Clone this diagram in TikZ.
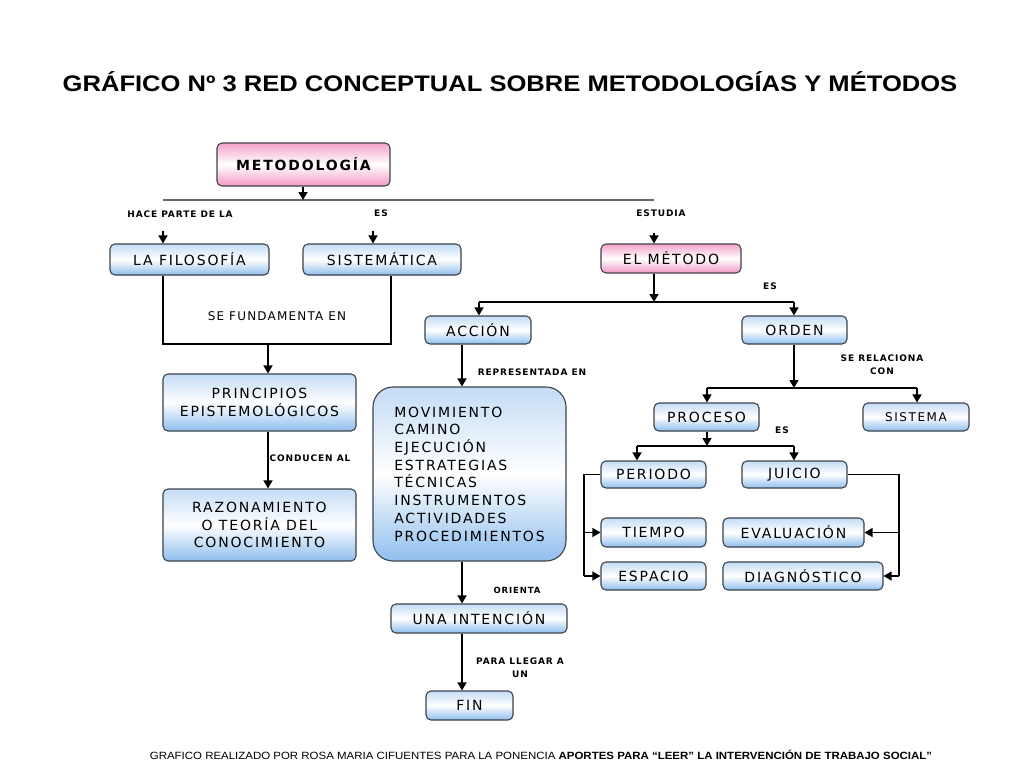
\documentclass[tikz,border=0pt]{standalone}
\usepackage{fontspec}
\setmainfont{Liberation Sans}
\newfontfamily\boxfont[LetterSpace=13]{DejaVu Sans}
\newfontfamily\lblfont[LetterSpace=10]{DejaVu Sans}
\usetikzlibrary{arrows.meta}
\definecolor{bluetop}{HTML}{C4DCF5}
\definecolor{bluebot}{HTML}{8FBEEE}
\definecolor{pinktop}{HTML}{F4A3CA}
\definecolor{pinkbot}{HTML}{F299C4}
\definecolor{edge}{HTML}{3C434A}
\tikzset{
  bbox/.style={draw=edge, line width=1.1pt, rounded corners=5pt, top color=bluetop, bottom color=bluebot, middle color=white, inner sep=0pt, font=\boxfont\fontsize{14}{17.7}\selectfont, text=black},
  pbox/.style={bbox, top color=pinktop, bottom color=pinkbot, middle color=white},
  lbl/.style={inner sep=0pt, font=\lblfont\bfseries\fontsize{9}{13}\selectfont, align=center},
  ln/.style={draw=black, line width=1.4pt},
  arr/.style={ln, -{Triangle[width=9pt,length=8pt]}},
}
\newcommand{\bx}[6]{% style, name, x1, y1, x2, y2
  \node[#1, minimum width={#5-#3}, minimum height={#6-#4}] (#2) at ({(#3+#5)/2},{(#4+#6)/2})}
\begin{document}
\begin{tikzpicture}[x=1pt,y=-1pt]
\useasboundingbox (0,0) rectangle (1024,768);
\fill[white] (0,0) rectangle (1024,768);

\node[inner sep=0pt, font=\bfseries\fontsize{22.5}{24}\selectfont] (title) at (510,82) {\scalebox{1.136}[1]{GRÁFICO Nº 3 RED CONCEPTUAL SOBRE METODOLOGÍAS Y MÉTODOS}};

% boxes
\bx{pbox}{metodologia}{217}{143}{390}{186} {\bfseries\fontsize{14}{15}\selectfont METODOLOGÍA};
\bx{bbox}{filosofia}{110}{244}{269}{275} {LA FILOSOFÍA};
\bx{bbox}{sistematica}{303}{244}{461}{275} {SISTEMÁTICA};
\bx{pbox}{metodo}{601}{244}{741}{273} {EL MÉTODO};
\bx{bbox}{principios}{163}{374}{356}{431} [align=center] {PRINCIPIOS\\EPISTEMOLÓGICOS};
\bx{bbox}{razonamiento}{163}{489}{356}{561} [align=center] {RAZONAMIENTO\\O TEORÍA DEL\\CONOCIMIENTO};
\bx{bbox}{accion}{425}{316}{531}{344} {ACCIÓN};
\bx{bbox}{orden}{742}{316}{847}{344} {ORDEN};
\bx{bbox}{movimiento}{373}{387}{566}{561} [rounded corners=20pt, align=left] {MOVIMIENTO\\CAMINO\\EJECUCIÓN\\ESTRATEGIAS\\TÉCNICAS\\INSTRUMENTOS\\ACTIVIDADES\\PROCEDIMIENTOS};
\bx{bbox}{intencion}{391}{604}{567}{633} {UNA INTENCIÓN};
\bx{bbox}{fin}{426}{691}{513}{720} {FIN};
\bx{bbox}{proceso}{654}{403}{759}{431} {PROCESO};
\bx{bbox}{sistema}{863}{403}{969}{431} [font=\boxfont\fontsize{12}{14}\selectfont] {SISTEMA};
\bx{bbox}{periodo}{601}{461}{706}{488} {PERIODO};
\bx{bbox}{juicio}{742}{461}{847}{488} {JUICIO};
\bx{bbox}{tiempo}{601}{518}{706}{547} {TIEMPO};
\bx{bbox}{evaluacion}{723}{518}{864}{547} {EVALUACIÓN};
\bx{bbox}{espacio}{601}{562}{706}{590} {ESPACIO};
\bx{bbox}{diagnostico}{723}{562}{883}{590} {DIAGNÓSTICO};

% labels
\node[lbl] (l1) at (180,214) {HACE PARTE DE LA};
\node[lbl] (l2) at (381,213) {ES};
\node[lbl] (l3) at (661,213) {ESTUDIA};
\node[lbl, font=\lblfont\fontsize{12}{14}\selectfont] (l4) at (277,316) {SE FUNDAMENTA EN};
\node[lbl] (l5) at (310,458) {CONDUCEN AL};
\node[lbl] (l6) at (770,286) {ES};
\node[lbl] (l7) at (532,372) {REPRESENTADA EN};
\node[lbl] (l8) at (882,364.5) {SE RELACIONA\\CON};
\node[lbl] (l9) at (782,430) {ES};
\node[lbl, font=\lblfont\bfseries\fontsize{8.5}{10}\selectfont] (l10) at (517,590) {ORIENTA};
\node[lbl] (l11) at (520,667.5) {PARA LLEGAR A\\UN};

% junction coordinates
\coordinate (h0) at (303,200);
\coordinate (hL) at (163,200);
\coordinate (hR) at (654,200);
\coordinate (a1) at (163,231);
\coordinate (a2) at (373,231);
\coordinate (a3) at (654,233);
\coordinate (j1) at (163,344);
\coordinate (j2) at (391,344);
\coordinate (j3) at (268,344);
\coordinate (j4) at (654,302);
\coordinate (j5) at (479,302);
\coordinate (j6) at (794,302);
\coordinate (j7) at (462,0);
\coordinate (j8) at (794,388);
\coordinate (j9) at (707,388);
\coordinate (j10) at (917,388);
\coordinate (j11) at (707,446);
\coordinate (j12) at (637,446);
\coordinate (j13) at (794,446);
\coordinate (j15) at (584,576);
\coordinate (j16) at (899,576);

% connectors
\draw[draw=black!60, line width=2.2pt] (hL) -- (hR);
\draw[arr] (metodologia.south -| h0) -- (h0);
\draw[arr] (a1) -- (filosofia.north -| a1);
\draw[arr] (a2) -- (sistematica.north -| a2);
\draw[arr] (a3) -- (metodo.north -| a3);

\draw[ln] (filosofia.south -| j1) -- (j1) -- (j2) -- (sistematica.south -| j2);
\draw[arr] (j3) -- (principios.north -| j3);
\draw[arr] (principios.south -| j3) -- (razonamiento.north -| j3);

\draw[arr] (metodo.south -| j4) -- (j4);
\draw[ln] (j5) -- (j6);
\draw[arr] (j5) -- (accion.north -| j5);
\draw[arr] (j6) -- (orden.north -| j6);

\draw[arr] (accion.south -| j7) -- (movimiento.north -| j7);
\draw[arr] (movimiento.south -| j7) -- (intencion.north -| j7);
\draw[arr] (intencion.south -| j7) -- (fin.north -| j7);

\draw[arr] (orden.south -| j8) -- (j8);
\draw[ln] (j9) -- (j10);
\draw[arr] (j9) -- (proceso.north -| j9);
\draw[arr] (j10) -- (sistema.north -| j10);

\draw[arr] (proceso.south -| j11) -- (j11);
\draw[ln] (j12) -- (j13);
\draw[arr] (j12) -- (periodo.north -| j12);
\draw[arr] (j13) -- (juicio.north -| j13);

\draw[ln] (periodo.west) -- (periodo.west -| j15) -- (j15);
\draw[arr] (tiempo.west -| j15) -- (tiempo.west);
\draw[arr] (j15) -- (espacio.west);

\draw[ln] (juicio.east) -- (juicio.east -| j16) -- (j16);
\draw[arr] (evaluacion.east -| j16) -- (evaluacion.east);
\draw[arr] (j16) -- (diagnostico.east);

\node[inner sep=0pt, font=\fontsize{10.5}{12}\selectfont] (footer) at (541,755) {\scalebox{1.092}[1]{GRAFICO REALIZADO POR ROSA MARIA CIFUENTES PARA LA PONENCIA \textbf{APORTES PARA “LEER” LA INTERVENCIÓN DE TRABAJO SOCIAL”}}};
\end{tikzpicture}
\end{document}
